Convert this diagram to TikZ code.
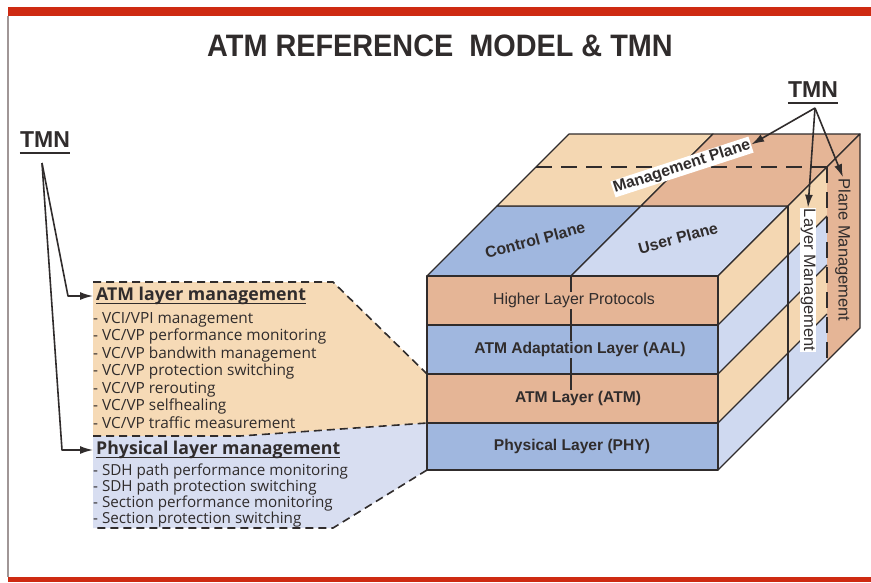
\documentclass[tikz,border=0pt]{standalone}
\usepackage{fontspec}
\setmainfont{Liberation Sans}
\newfontfamily\listfont{Open Sans}
\usetikzlibrary{arrows.meta}

\definecolor{bandred}{RGB}{206,42,18}
\definecolor{framegrey}{RGB}{160,150,150}
\definecolor{inkgrey}{RGB}{48,44,44}
\definecolor{salmon}{RGB}{229,181,150}
\definecolor{midblue}{RGB}{160,183,223}
\definecolor{paleblue}{RGB}{207,217,240}
\definecolor{paletan}{RGB}{244,215,178}
\definecolor{callouttan}{RGB}{246,218,182}
\definecolor{calloutblue}{RGB}{216,222,241}

\tikzset{
	edge/.style={draw=inkgrey, line width=1.2pt, line join=round},
	calloutedge/.style={draw=inkgrey, line width=1.6pt, dash pattern=on 8pt off 5pt},
	tmnarrow/.style={draw=inkgrey, line width=1.6pt, line join=round, -{Latex[length=13pt,width=8pt]}},
	headline/.style={draw=inkgrey, line width=1.6pt},
	layertext/.style={text=inkgrey, inner sep=1pt, font=\fontsize{15.6}{18}\selectfont\bfseries},
	planetext/.style={text=inkgrey, inner sep=1pt, font=\fontsize{15.8}{18}\selectfont\bfseries},
	sidetext/.style={text=inkgrey, inner sep=1pt, font=\fontsize{16.5}{18}\selectfont},
	tmntext/.style={text=inkgrey, inner sep=0pt, font=\fontsize{23}{26}\selectfont\bfseries},
	listhead/.style={text=inkgrey, inner sep=0pt, font=\listfont\fontsize{17.7}{20}\selectfont\bfseries},
	listtext/.style={text=inkgrey, inner sep=0pt, align=left, anchor=north west}
}

\begin{document}
\begin{tikzpicture}[x=1pt, y=-1pt]
		%%%%% START %%%%%
		\useasboundingbox (0,0) rectangle (871,582);
		\fill[white] (0,0) rectangle (871,582);
		
		% frame
		\fill[bandred] (8,7) rectangle (871,16);
		\fill[bandred] (8,577) rectangle (871,582);
		\draw[framegrey, line width=1.5pt] (8,16) -- (8,577);
		
		\node[text=inkgrey, font=\fontsize{31}{36}\selectfont\bfseries] (title) at (440,46) {\scalebox{0.93}[1]{ATM REFERENCE\ \ MODEL \& TMN}};
		
		% callouts
		\fill[callouttan] (93,282) -- (333,282) -- (427,374) -- (427,423) -- (240,436) -- (93,436) -- cycle;
		\fill[calloutblue] (93,436) -- (240,436) -- (427,423) -- (427,470) -- (333,528) -- (93,528) -- cycle;
		\draw[calloutedge] (93,282) -- (333,282) -- (427,374);
		\draw[calloutedge] (93,436) -- (240,436) -- (427,423);
		\draw[calloutedge] (427,470) -- (333,528) -- (93,528);
		
		\node[listhead, anchor=west] (atmhead) at (96,296) {ATM layer management};
		\draw[headline] ([yshift=-3pt]atmhead.base west) -- ([yshift=-3pt]atmhead.base east);
		\node[listtext, font=\listfont\fontsize{15.4}{17.5}\selectfont] (atmlist) at (93,312) {- VCI/VPI management\\- VC/VP performance monitoring\\- VC/VP bandwith management\\- VC/VP protection switching\\- VC/VP rerouting\\- VC/VP selfhealing\\- VC/VP traffic measurement};
		
		\node[listhead, anchor=west] (phyhead) at (96,450) {Physical layer management};
		\draw[headline] ([yshift=-3pt]phyhead.base west) -- ([yshift=-3pt]phyhead.base east);
		\node[listtext, font=\listfont\fontsize{15.2}{16}\selectfont] (phylist) at (93,464) {- SDH path performance monitoring\\- SDH path protection switching\\- Section performance monitoring\\- Section protection switching};
		
		% top of the cube
		\filldraw[edge, fill=midblue] (427,276) -- (571,276) -- (641,206) -- (497,206) -- cycle;
		\filldraw[edge, fill=paleblue] (571,276) -- (718,276) -- (788,206) -- (641,206) -- cycle;
		\filldraw[edge, fill=paletan] (497,206) -- (641,206) -- (713,134) -- (569,134) -- cycle;
		\filldraw[edge, fill=salmon] (641,206) -- (788,206) -- (860,134) -- (713,134) -- cycle;
		\draw[edge, dash pattern=on 16pt off 9pt] (536,167) -- (827,167);
		
		% right side of the cube
		\fill[paletan] (718,276) -- (827,167) -- (827,216) -- (718,325) -- cycle;
		\fill[paleblue] (718,325) -- (827,216) -- (827,265) -- (718,374) -- cycle;
		\fill[paletan] (718,374) -- (827,265) -- (827,314) -- (718,423) -- cycle;
		\fill[paleblue] (718,423) -- (827,314) -- (827,361) -- (718,470) -- cycle;
		\fill[salmon] (827,167) -- (860,134) -- (860,328) -- (827,361) -- cycle;
		\draw[edge] (718,325) -- (827,216);
		\draw[edge] (718,374) -- (827,265);
		\draw[edge] (718,423) -- (827,314);
		\draw[edge] (788,206) -- (788,400);
		\draw[edge, dash pattern=on 16pt off 9pt] (827,167) -- (827,361);
		\draw[edge] (718,276) -- (860,134) -- (860,328) -- (718,470);
		
		% front of the cube
		\filldraw[edge, fill=salmon] (427,276) rectangle (718,325);
		\filldraw[edge, fill=midblue] (427,325) rectangle (718,374);
		\filldraw[edge, fill=salmon] (427,374) rectangle (718,423);
		\filldraw[edge, fill=midblue] (427,423) rectangle (718,470);
		\draw[edge] (571,276) -- (571,390);
		
		\node[layertext, fill=salmon, font=\fontsize{15.9}{18}\selectfont] (hlp) at (574,300.5) {Higher Layer Protocols};
		\node[layertext, fill=midblue] (aal) at (580,349.5) {ATM Adaptation Layer (AAL)};
		\node[layertext, fill=salmon] (atm) at (578,398.5) {ATM Layer (ATM)};
		\node[layertext, fill=midblue] (phy) at (572,446.5) {Physical Layer (PHY)};
		
		\node[planetext, rotate=15] (ctrl) at (535,240) {Control Plane};
		\node[planetext, rotate=15] (user) at (678,238) {User Plane};
		\node[planetext, rotate=18, fill=white] (mgmtplane) at (682,167) {Management Plane};
		\node[sidetext, rotate=-90, fill=white] (laymgmt) at (808,280) {Layer Management};
		\node[sidetext, rotate=-90] (planemgmt) at (843,250) {Plane Management};
		
		% TMN
		\node[tmntext] (tmnL) at (45,140) {TMN};
		\draw[headline, line width=2pt] ([yshift=-5pt]tmnL.base west) -- ([yshift=-5pt]tmnL.base east);
		\coordinate (tmnLfoot) at (42,163);
		\draw[tmnarrow, shorten >=3pt] (tmnLfoot) -- (68,296) -- (atmhead.west);
		\draw[tmnarrow, shorten >=3pt] (tmnLfoot) -- (62,450) -- (phyhead.west);
		
		\node[tmntext] (tmnR) at (813,90) {TMN};
		\draw[headline, line width=2pt] ([yshift=-5pt]tmnR.base west) -- ([yshift=-5pt]tmnR.base east);
		\coordinate (tmnRfoot) at (815,108);
		\draw[tmnarrow] (tmnRfoot) -- (mgmtplane.east);
		\draw[tmnarrow] (tmnRfoot) -- (laymgmt.west);
		\draw[tmnarrow] (tmnRfoot) -- (planemgmt.west);
		
		%%%%% END %%%%%
\end{tikzpicture}
\end{document}
